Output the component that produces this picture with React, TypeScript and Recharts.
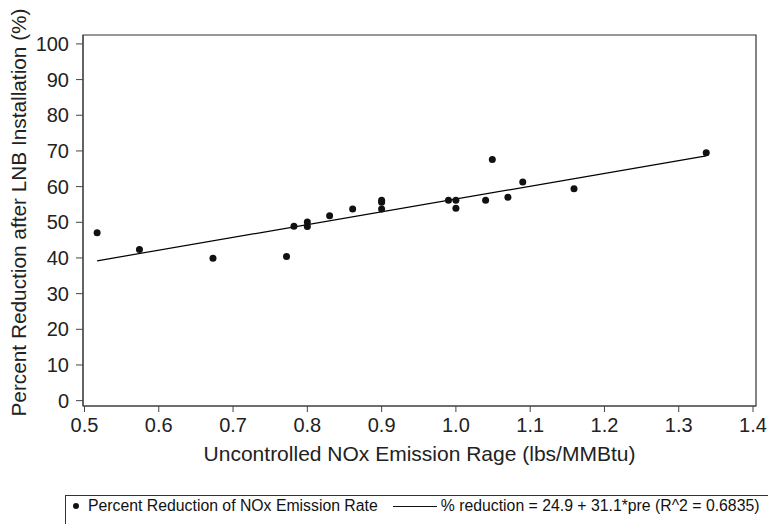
import React from "react";
import {
  ScatterChart,
  Scatter,
  XAxis,
  YAxis,
  ReferenceArea,
} from "recharts";

// Observed data points (Uncontrolled NOx rate, % reduction)
const noxRate = [
  0.517, 0.574, 0.673, 0.772, 0.782, 0.8, 0.8, 0.83, 0.861, 0.9, 0.9, 0.9,
  0.99, 1.0, 1.0, 1.04, 1.049, 1.07, 1.09, 1.159, 1.337,
];
const reduction = [
  47.1, 42.4, 39.9, 40.4, 48.9, 50.1, 48.8, 51.8, 53.7, 56.2, 55.6, 53.7,
  56.2, 56.2, 53.9, 56.2, 67.6, 57.0, 61.3, 59.4, 69.5,
];

// Fitted line endpoints as drawn
const fitX = [0.517, 1.337];
const fitY = [39.2, 68.6];

const xTicks = [0.5, 0.6, 0.7, 0.8, 0.9, 1.0, 1.1, 1.2, 1.3, 1.4];
const yTicks = [0, 10, 20, 30, 40, 50, 60, 70, 80, 90, 100];
const xDomain = [0.498, 1.404];
const yDomain = [-1.5, 102.5];

const points = noxRate.map((x, i) => ({ x, y: reduction[i] }));
const fitLine = fitX.map((x, i) => ({ x, y: fitY[i] }));

const FONT = "'Liberation Sans', Arial, Helvetica, sans-serif";
const AXIS_COLOR = "#444";

const Dot = (props: any) => (
  <circle cx={props.cx} cy={props.cy} r={3.5} fill="#111" />
);
const NoDot = () => <g />;

const YTitle = (props: any) => {
  const vb = props.viewBox;
  const cx = vb.x + 18;
  const cy = vb.y + vb.height / 2 - 8;
  return (
    <text
      x={cx}
      y={cy}
      transform={`rotate(-90, ${cx}, ${cy})`}
      textAnchor="middle"
      dominantBaseline="central"
      fontSize={20.8}
      fontFamily={FONT}
      fill="#222"
    >
      Percent Reduction after LNB Installation (%)
    </text>
  );
};

export default function App() {
  return (
    <div
      style={{
        position: "absolute",
        left: 0,
        top: 0,
        width: 768,
        height: 524,
        background: "#fff",
        overflow: "hidden",
      }}
    >
      <ScatterChart
        width={768}
        height={524}
        margin={{ top: 35, right: 12, bottom: 62, left: 0 }}
      >
        <XAxis
          type="number"
          dataKey="x"
          domain={xDomain}
          ticks={xTicks}
          allowDataOverflow
          tickFormatter={(v: number) => v.toFixed(1)}
          height={56}
          stroke={AXIS_COLOR}
          tickSize={6}
          tickMargin={6}
          tick={{ fontSize: 20, fontFamily: FONT, fill: "#222" }}
          label={{
            value: "Uncontrolled NOx Emission Rage (lbs/MMBtu)",
            position: "insideBottom",
            offset: 1,
            fontSize: 21,
            fontFamily: FONT,
            fill: "#222",
          }}
        />
        <YAxis
          type="number"
          dataKey="y"
          domain={yDomain}
          ticks={yTicks}
          allowDataOverflow
          width={83}
          stroke={AXIS_COLOR}
          tickSize={7}
          tickMargin={7}
          tick={{ fontSize: 20, fontFamily: FONT, fill: "#222" }}
          label={<YTitle />}
        />
        <ReferenceArea
          x1={xDomain[0]}
          x2={xDomain[1]}
          y1={yDomain[0]}
          y2={yDomain[1]}
          fill="none"
          stroke="#333"
          strokeWidth={1.2}
          ifOverflow="visible"
        />
        <Scatter
          data={fitLine}
          line={{ stroke: "#000", strokeWidth: 1.2 }}
          lineType="joint"
          shape={<NoDot />}
          isAnimationActive={false}
        />
        <Scatter data={points} shape={<Dot />} isAnimationActive={false} />
      </ScatterChart>
      <div
        style={{
          position: "absolute",
          left: 65,
          top: 495,
          width: 740,
          height: 40,
          border: "1px solid #333",
          boxSizing: "border-box",
          fontFamily: FONT,
          fontSize: 15.8,
          color: "#111",
          whiteSpace: "nowrap",
        }}
      >
        <div
          style={{
            position: "absolute",
            left: 7,
            top: 0,
            height: 20,
            display: "flex",
            alignItems: "center",
          }}
        >
          <span
            style={{
              display: "inline-block",
              width: 6,
              height: 6,
              borderRadius: "50%",
              background: "#111",
              marginRight: 9,
            }}
          />
          <span>Percent Reduction of NOx Emission Rate</span>
          <span
            style={{
              display: "inline-block",
              width: 44,
              height: 0,
              borderTop: "1px solid #111",
              marginLeft: 15,
              marginRight: 4,
            }}
          />
          <span>% reduction = 24.9 + 31.1*pre (R^2 = 0.6835)</span>
        </div>
      </div>
    </div>
  );
}
